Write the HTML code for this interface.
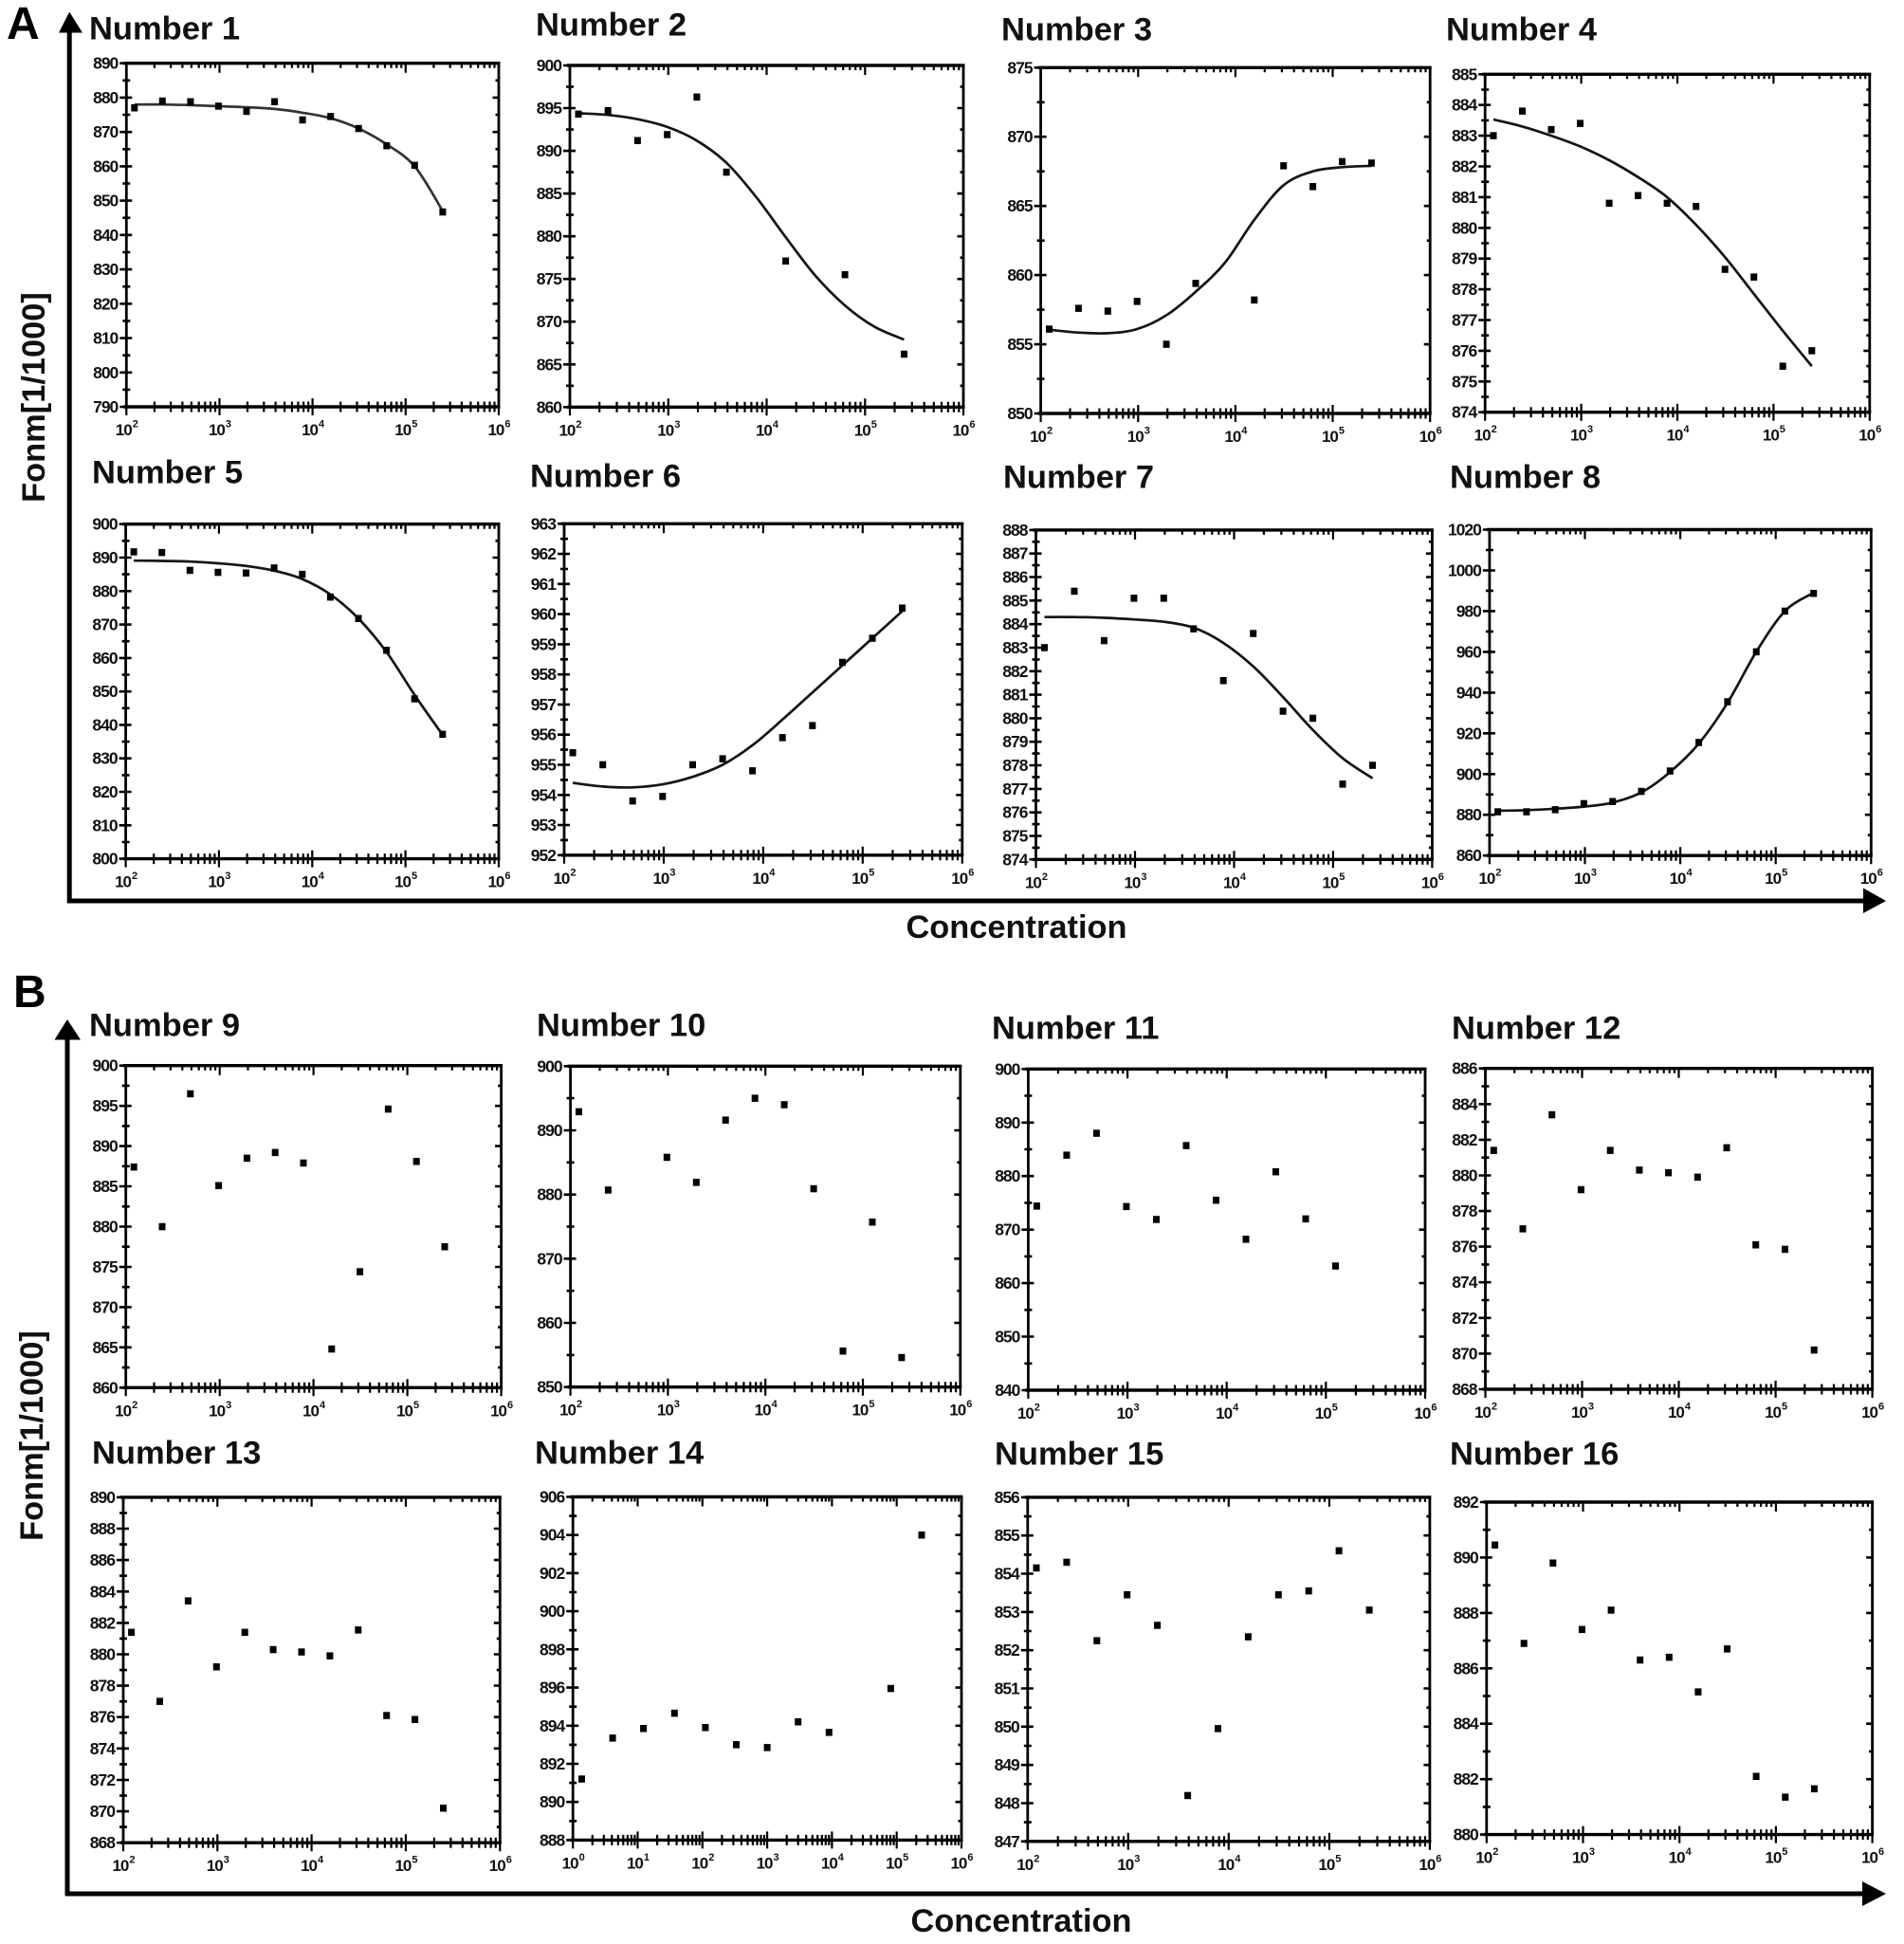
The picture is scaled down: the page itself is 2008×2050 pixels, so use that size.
<!DOCTYPE html>
<html lang="en">
<head>
<meta charset="utf-8">
<title>Fluorescence versus concentration panels</title>
<style>
html,body{margin:0;padding:0;background:#fff;}
svg{display:block;}
text{font-family:"Liberation Sans",Arial,sans-serif;font-weight:bold;fill:#111;}
.title{font-size:34.5px;}
.panel-letter{font-size:48px;fill:#000;}
.axis-big{font-size:34.4px;}
</style>
</head>
<body>
<svg id="figure" xmlns="http://www.w3.org/2000/svg" width="2008" height="2050" viewBox="0 0 2008 2050">
<rect x="0" y="0" width="2008" height="2050" fill="#fff"/>

<text class="panel-letter" x="7" y="41">A</text>
<text class="panel-letter" x="14" y="1062">B</text>

<g>
<line x1="73.2" y1="952.5" x2="73.2" y2="32" stroke="#000" stroke-width="5"/>
<polygon points="62,34.5 73.2,12.5 87,34.5" fill="#000"/>
<line x1="71" y1="950" x2="1968" y2="950" stroke="#000" stroke-width="5"/>
<polygon points="1965,936.5 1989,950 1965,963" fill="#000"/>
</g>
<g>
<line x1="71" y1="1999" x2="71" y2="1094" stroke="#000" stroke-width="5"/>
<polygon points="57.5,1096.5 71,1075 85,1096.5" fill="#000"/>
<line x1="69" y1="1997" x2="1968" y2="1997" stroke="#000" stroke-width="5"/>
<polygon points="1964,1984 1989,1997 1964,2010" fill="#000"/>
</g>

<text class="axis-big" text-anchor="middle" transform="translate(47,419) rotate(-90)">Fonm[1/1000]</text>
<text class="axis-big" text-anchor="middle" transform="translate(45,1514) rotate(-90)">Fonm[1/1000]</text>
<text class="axis-big" text-anchor="middle" x="1072" y="989">Concentration</text>
<text class="axis-big" text-anchor="middle" x="1077" y="2037">Concentration</text>

<text class="title" x="94" y="41.7">Number 1</text>
<text class="title" x="565" y="37.3">Number 2</text>
<text class="title" x="1056" y="42.7">Number 3</text>
<text class="title" x="1525" y="42.7">Number 4</text>
<text class="title" x="97" y="509.3">Number 5</text>
<text class="title" x="559" y="513.4">Number 6</text>
<text class="title" x="1058" y="514.4">Number 7</text>
<text class="title" x="1529" y="514.4">Number 8</text>
<text class="title" x="94" y="1092.7">Number 9</text>
<text class="title" x="566" y="1092.7">Number 10</text>
<text class="title" x="1046" y="1095.7">Number 11</text>
<text class="title" x="1531" y="1095.7">Number 12</text>
<text class="title" x="97" y="1543.7">Number 13</text>
<text class="title" x="564" y="1543.7">Number 14</text>
<text class="title" x="1049" y="1544.4">Number 15</text>
<text class="title" x="1529" y="1544.4">Number 16</text>
</svg>

<script>
// ---------- shared concentrations ----------
const concAll = [122, 244, 488, 976, 1953, 3906, 7812, 15625, 31250, 62500, 125000, 250000];
const conc2 = [122, 244, 488, 976, 1953, 3906, 15625, 62500, 250000];
const conc3 = [122, 244, 488, 976, 1953, 3906, 15625, 31250, 62500, 125000, 250000];
const conc10 = [122, 244, 976, 1953, 3906, 7812, 15625, 31250, 62500, 125000, 250000];
const conc11 = [122, 244, 488, 976, 1953, 3906, 7812, 15625, 31250, 62500, 125000];
const conc14 = [1.37, 4.1, 12.3, 37, 111, 333, 1000, 3000, 9000, 81000, 243000];

// ---------- x tick exponents ----------
const xExp = [2, 3, 4, 5, 6];
const xExp14 = [0, 1, 2, 3, 4, 5, 6];

// ---------- y tick labels ----------
const yTicks1 = [790, 800, 810, 820, 830, 840, 850, 860, 870, 880, 890];
const yTicks2 = [860, 865, 870, 875, 880, 885, 890, 895, 900];
const yTicks3 = [850, 855, 860, 865, 870, 875];
const yTicks4 = [874, 875, 876, 877, 878, 879, 880, 881, 882, 883, 884, 885];
const yTicks5 = [800, 810, 820, 830, 840, 850, 860, 870, 880, 890, 900];
const yTicks6 = [952, 953, 954, 955, 956, 957, 958, 959, 960, 961, 962, 963];
const yTicks7 = [874, 875, 876, 877, 878, 879, 880, 881, 882, 883, 884, 885, 886, 887, 888];
const yTicks8 = [860, 880, 900, 920, 940, 960, 980, 1000, 1020];
const yTicks9 = [860, 865, 870, 875, 880, 885, 890, 895, 900];
const yTicks10 = [850, 860, 870, 880, 890, 900];
const yTicks11 = [840, 850, 860, 870, 880, 890, 900];
const yTicks12 = [868, 870, 872, 874, 876, 878, 880, 882, 884, 886];
const yTicks13 = [868, 870, 872, 874, 876, 878, 880, 882, 884, 886, 888, 890];
const yTicks14 = [888, 890, 892, 894, 896, 898, 900, 902, 904, 906];
const yTicks15 = [847, 848, 849, 850, 851, 852, 853, 854, 855, 856];
const yTicks16 = [880, 882, 884, 886, 888, 890, 892];

// ---------- measured points ----------
const values1 = [877, 879, 878.8, 877.5, 876, 878.8, 873.5, 874.5, 871, 866, 860.3, 846.7];
const values2 = [894.3, 894.7, 891.2, 891.9, 896.3, 887.5, 877.1, 875.5, 866.2];
const values3 = [856.1, 857.6, 857.4, 858.1, 855, 859.4, 858.2, 867.9, 866.4, 868.2, 868.1];
const values4 = [883, 883.8, 883.2, 883.4, 880.8, 881.05, 880.8, 880.7, 878.65, 878.4, 875.5, 876];
const values5 = [891.7, 891.5, 886.2, 885.6, 885.4, 886.9, 885, 878.2, 871.8, 862.3, 847.8, 837.2];
const values6 = [955.4, 955, 953.8, 953.95, 955, 955.2, 954.8, 955.9, 956.3, 958.4, 959.2, 960.2];
const values7 = [883, 885.4, 883.3, 885.1, 885.1, 883.8, 881.6, 883.6, 880.3, 880, 877.2, 878];
const values8 = [881.5, 881.5, 882.5, 885.5, 886.5, 891.5, 901.5, 915.5, 935.5, 960, 980, 988.7];
const values9 = [887.4, 880, 896.5, 885.1, 888.5, 889.2, 887.9, 864.8, 874.4, 894.6, 888.1, 877.5];
const values10 = [892.9, 880.7, 885.8, 881.9, 891.6, 895, 894, 880.9, 855.6, 875.7, 854.6];
const values11 = [874.4, 883.9, 888, 874.3, 871.9, 885.7, 875.5, 868.2, 880.8, 872, 863.2];
const values12 = [881.4, 877, 883.4, 879.2, 881.4, 880.3, 880.15, 879.9, 881.55, 876.1, 875.85, 870.2];
const values13 = [881.4, 877, 883.4, 879.2, 881.4, 880.3, 880.15, 879.9, 881.55, 876.1, 875.85, 870.2];
const values14 = [891.2, 893.35, 893.85, 894.65, 893.9, 893, 892.85, 894.2, 893.65, 895.95, 904];
const values15 = [854.15, 854.3, 852.25, 853.45, 852.65, 848.2, 849.95, 852.35, 853.45, 853.55, 854.6, 853.05];
const values16 = [890.45, 886.9, 889.8, 887.4, 888.1, 886.3, 886.4, 885.15, 886.7, 882.1, 881.35, 881.65];

// ---------- fitted curves (value at each concentration in concAll) ----------
const fit1 = [878, 878, 877.8, 877.5, 877.2, 876.7, 875.6, 874, 871, 866.4, 860, 847];
const fit2 = [894.4, 894.2, 893.7, 892.8, 891.2, 888.6, 884.6, 879.9, 875.4, 871.9, 869.4, 867.9];
const fit3 = [856.05, 855.85, 855.8, 856.1, 857.1, 858.8, 860.9, 864, 866.5, 867.5, 867.8, 867.9];
const fit4 = [883.53, 883.3, 883, 882.65, 882.2, 881.65, 881, 880.1, 879.05, 877.85, 876.65, 875.5];
const fit5 = [889.1, 889, 888.8, 888.3, 887.5, 886.1, 883.6, 879, 871.8, 861.8, 849, 837];
const fit6 = [954.4, 954.28, 954.25, 954.35, 954.6, 955, 955.65, 956.5, 957.4, 958.3, 959.2, 960.1];
const fit7 = [884.3, 884.3, 884.27, 884.2, 884.1, 883.85, 883.2, 882.2, 880.9, 879.5, 878.3, 877.45];
const fit8 = [882, 882.3, 883, 884, 886, 891, 901, 915, 935, 960, 980, 989];

// ---------- layout: plot-box edges (separate from the data) ----------
const boxLeft   = [133.3, 601, 1097.6, 1566.2, 132.6, 595, 1092.5, 1570.9, 132.7, 601.6, 1084.4, 1566.5, 130, 604.2, 1083.8, 1567.8];
const boxRight  = [526, 1016, 1508.2, 1971.8, 526, 1014.8, 1510.4, 1973.3, 528.6, 1012.8, 1503, 1974.6, 527.3, 1014, 1507.9, 1974.6];
const boxTop    = [66.7, 69, 71.3, 78.3, 552.7, 552.3, 558.9, 558.5, 1123.7, 1124.3, 1127.3, 1126.7, 1578.9, 1578.5, 1578.9, 1584];
const boxBottom = [429, 429.3, 436, 434.7, 905.6, 901.8, 906.3, 902.2, 1463.3, 1462.7, 1466, 1465, 1943.2, 1940.4, 1941.8, 1934.6];

const panels = [
  {id:1,  yt:yTicks1,  xe:xExp,   cx:concAll, vals:values1,  fit:fit1},
  {id:2,  yt:yTicks2,  xe:xExp,   cx:conc2,   vals:values2,  fit:fit2},
  {id:3,  yt:yTicks3,  xe:xExp,   cx:conc3,   vals:values3,  fit:fit3},
  {id:4,  yt:yTicks4,  xe:xExp,   cx:concAll, vals:values4,  fit:fit4},
  {id:5,  yt:yTicks5,  xe:xExp,   cx:concAll, vals:values5,  fit:fit5},
  {id:6,  yt:yTicks6,  xe:xExp,   cx:concAll, vals:values6,  fit:fit6},
  {id:7,  yt:yTicks7,  xe:xExp,   cx:concAll, vals:values7,  fit:fit7},
  {id:8,  yt:yTicks8,  xe:xExp,   cx:concAll, vals:values8,  fit:fit8},
  {id:9,  yt:yTicks9,  xe:xExp,   cx:concAll, vals:values9},
  {id:10, yt:yTicks10, xe:xExp,   cx:conc10,  vals:values10},
  {id:11, yt:yTicks11, xe:xExp,   cx:conc11,  vals:values11},
  {id:12, yt:yTicks12, xe:xExp,   cx:concAll, vals:values12},
  {id:13, yt:yTicks13, xe:xExp,   cx:concAll, vals:values13},
  {id:14, yt:yTicks14, xe:xExp14, cx:conc14,  vals:values14},
  {id:15, yt:yTicks15, xe:xExp,   cx:concAll, vals:values15},
  {id:16, yt:yTicks16, xe:xExp,   cx:concAll, vals:values16}
];

const NS = 'http://www.w3.org/2000/svg';
const svg = document.getElementById('figure');

function make(tag, attrs, parent) {
  const el = document.createElementNS(NS, tag);
  for (const k in attrs) el.setAttribute(k, attrs[k]);
  parent.appendChild(el);
  return el;
}

function smoothPath(pts) {
  let d = 'M' + pts[0][0].toFixed(1) + ' ' + pts[0][1].toFixed(1);
  for (let i = 0; i < pts.length - 1; i++) {
    const p0 = pts[Math.max(i - 1, 0)], p1 = pts[i], p2 = pts[i + 1], p3 = pts[Math.min(i + 2, pts.length - 1)];
    const c1x = p1[0] + (p2[0] - p0[0]) / 6, c1y = p1[1] + (p2[1] - p0[1]) / 6;
    const c2x = p2[0] - (p3[0] - p1[0]) / 6, c2y = p2[1] - (p3[1] - p1[1]) / 6;
    d += 'C' + c1x.toFixed(1) + ' ' + c1y.toFixed(1) + ' ' + c2x.toFixed(1) + ' ' + c2y.toFixed(1) + ' ' + p2[0].toFixed(1) + ' ' + p2[1].toFixed(1);
  }
  return d;
}

panels.forEach(function (p, idx) {
  const L = boxLeft[idx], R = boxRight[idx], T = boxTop[idx], B = boxBottom[idx];
  const e0 = p.xe[0], e1 = p.xe[p.xe.length - 1];
  const y0 = p.yt[0], y1 = p.yt[p.yt.length - 1];
  const xScale = function (v) { return L + (Math.log10(v) - e0) / (e1 - e0) * (R - L); };
  const yScale = function (v) { return B - (v - y0) / (y1 - y0) * (B - T); };

  const g = make('g', {}, svg);
  
  

  // Frame
  const frame = make('path', {
    d: 'M' + L + ' ' + T + 'V' + B + 'M' + R + ' ' + T + 'V' + B,
    stroke: '#000', 'stroke-width': 2.8, fill: 'none'
  }, g);
  
  
  const frameH = make('path', {
    d: 'M' + (L - 3) + ' ' + T + 'H' + (R + 1.5) + 'M' + (L - 3) + ' ' + B + 'H' + (R + 1.5),
    stroke: '#000', 'stroke-width': 3.4, fill: 'none'
  }, g);
  
  

  // X ticks
  let dx = '';
  p.xe.forEach(function (e, i) {
    const x = xScale(Math.pow(10, e));
    dx += 'M' + x.toFixed(1) + ' ' + (B - 9) + 'V' + (B + 9);
    dx += 'M' + x.toFixed(1) + ' ' + T + 'V' + (T + 10);
    if (i < p.xe.length - 1) {
      for (let m = 2; m < 10; m++) {
        const xm = xScale(m * Math.pow(10, e));
        dx += 'M' + xm.toFixed(1) + ' ' + (B - 5.5) + 'V' + (B + 5.5);
        dx += 'M' + xm.toFixed(1) + ' ' + T + 'V' + (T + 5);
      }
    }
    const t = make('text', {x: x.toFixed(1), y: (B + 30).toFixed(1), 'text-anchor': 'middle', 'font-size': 17, 'letter-spacing': '-1'}, g);
    
    
    const base = make('tspan', {}, t);
    base.textContent = '10';
    const sup = make('tspan', {dy: -8.5, dx: 1, 'font-size': 11}, t);
    sup.textContent = String(e);
  });
  const xt = make('path', {d: dx, stroke: '#000', 'stroke-width': 2.2, fill: 'none'}, g);
  
  

  // Y ticks
  let dy = '';
  p.yt.forEach(function (v, i) {
    const y = yScale(v);
    dy += 'M' + (L - 7) + ' ' + y.toFixed(1) + 'H' + (L + 6);
    dy += 'M' + (R - 6.5) + ' ' + y.toFixed(1) + 'H' + R;
    if (i < p.yt.length - 1) {
      const ym = yScale((v + p.yt[i + 1]) / 2);
      dy += 'M' + (L - 4) + ' ' + ym.toFixed(1) + 'H' + (L + 4);
      dy += 'M' + (R - 3.5) + ' ' + ym.toFixed(1) + 'H' + R;
    }
    const t = make('text', {x: L - 9, y: (y + 6).toFixed(1), 'text-anchor': 'end', 'font-size': 17.5, 'letter-spacing': '-1'}, g);
    
    
    t.textContent = String(v);
  });
  const yt = make('path', {d: dy, stroke: '#000', 'stroke-width': 2.6, fill: 'none'}, g);
  
  

  // Fit curve
  if (p.fit) {
    const pts = p.fit.map(function (v, i) { return [xScale(concAll[i]), yScale(v)]; });
    const c = make('path', {d: smoothPath(pts), stroke: p.id === 1 ? '#333' : '#151515', 'stroke-width': 2.7, fill: 'none'}, g);
    
    
  }

  // Data points
  p.vals.forEach(function (v, i) {
    const cx = xScale(p.cx[i]), cy = yScale(v);
    const r = make('rect', {x: (cx - 3.5).toFixed(1), y: (cy - 3.75).toFixed(1), width: 7, height: 7.5, fill: '#000'}, g);
    
    
  });
});
</script>
</body>
</html>
